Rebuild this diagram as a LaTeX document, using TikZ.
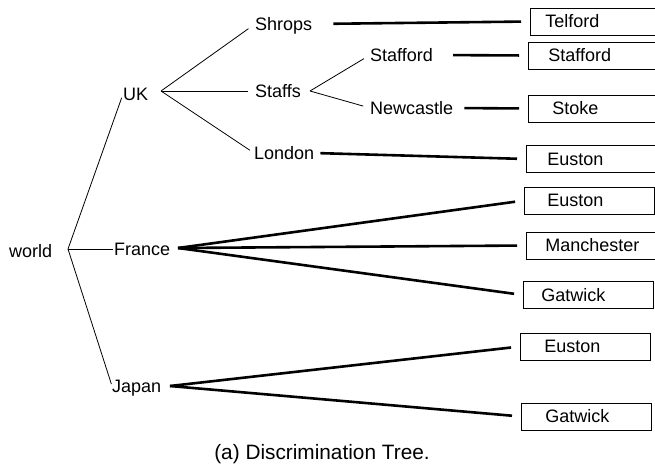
\documentclass[tikz,border=0pt]{standalone}
\usepackage{fontspec}
\setmainfont{Liberation Sans}
\begin{document}
\begin{tikzpicture}[x=1pt, y=-1pt,
    place/.style={inner sep=0pt, anchor=west, text height=12.9pt, text depth=0pt, font=\fontsize{18}{20}\selectfont},
    leaf/.style={draw, line width=0.8pt, anchor=west, minimum height=27pt, inner xsep=#1, text width={130pt-2*#1}, align=left, text height=12.9pt, text depth=0pt, font=\fontsize{18}{20}\selectfont},
    leaf/.default=20pt,
    branch/.style={line width=0.8pt},
    link/.style={line width=2.6pt, shorten >=9pt}]
  \clip (0,0) rectangle (655,466);

  % inner places
  \node[place] (world) at (9,251) {world};
  \node[place] (uk) at (123,94) {UK};
  \node[place] (france) at (114,249) {France};
  \node[place] (japan) at (112,386) {Japan};
  \node[place] (shrops) at (255,24) {Shrops};
  \node[place] (staffs) at (255,91) {Staffs};
  \node[place] (london) at (254,153) {London};
  \node[place] (stafford) at (370,55) {Stafford};
  \node[place] (newcastle) at (370,108) {Newcastle};

  % stations
  \node[leaf=15pt] (telford) at (530,21.5) {Telford};
  \node[leaf=20pt] (staffordstn) at (528,55.5) {Stafford};
  \node[leaf=24pt] (stoke) at (528,108.5) {Stoke};
  \node[leaf=21pt] (eustonA) at (526,159) {Euston};
  \node[leaf=23pt] (eustonB) at (524,200.5) {Euston};
  \node[leaf=19pt] (manchester) at (526,245.5) {Manchester};
  \node[leaf=18pt] (gatwickA) at (523,295) {Gatwick};
  \node[leaf=24pt] (eustonC) at (520,346.5) {Euston};
  \node[leaf=24pt] (gatwickB) at (521,416.5) {Gatwick};

  \coordinate (worldfork) at (68,249);
  \coordinate (ukfork) at (161,91);
  \coordinate (staffsfork) at (310,91);
  \coordinate (francefork) at (178,248);
  \coordinate (japanfork) at (170,386);

  \foreach \c/\s in {uk/4, france/1, japan/2} {\draw[branch, shorten >=\s pt] (worldfork) -- (\c.west);}
  \foreach \c/\s in {shrops/8, staffs/7, london/5} {\draw[branch, shorten >=\s pt] (ukfork) -- (\c.west);}
  \foreach \c in {stafford, newcastle} {\draw[branch, shorten >=7pt] (staffsfork) -- (\c.west);}

  \foreach \a/\b/\s in {shrops/telford/21, stafford/staffordstn/20, newcastle/stoke/11, london/eustonA/6} {\draw[link, shorten <=\s pt] (\a.east) -- (\b.west);}
  \foreach \b in {eustonB, manchester, gatwickA} {\draw[link] (francefork) -- (\b.west);}
  \foreach \b in {eustonC, gatwickB} {\draw[link] (japanfork) -- (\b.west);}

  \node[anchor=base, font=\fontsize{20.8}{24}\selectfont] (caption) at (322,459) {(a) Discrimination Tree.};
\end{tikzpicture}
\end{document}
